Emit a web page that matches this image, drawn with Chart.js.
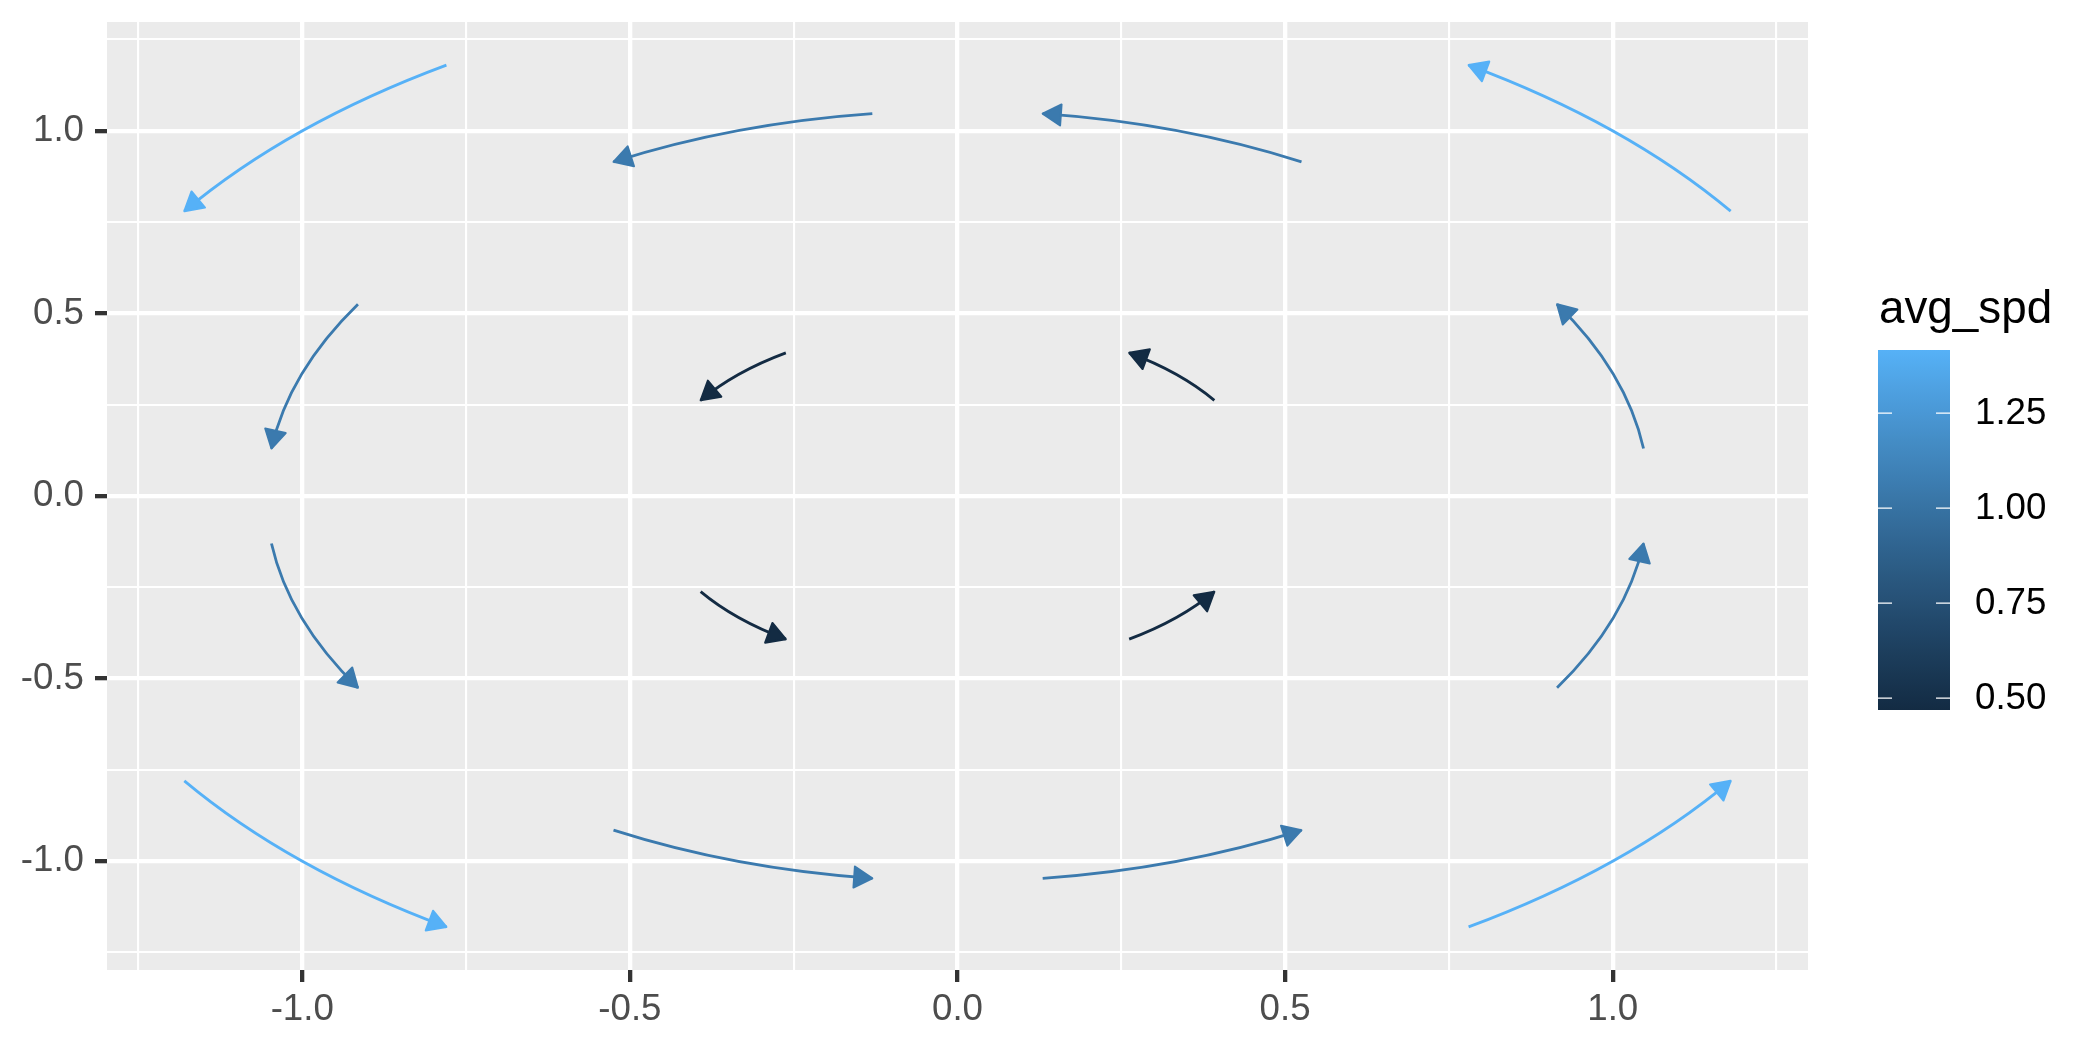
<!DOCTYPE html>
<html>
<head>
<meta charset="utf-8">
<script src="https://cdn.jsdelivr.net/npm/chart.js@4.4.1/dist/chart.umd.min.js"></script>
<style>
  body { margin: 0; background: #fff; }
  canvas { display: block; }
</style>
</head>
<body>
<canvas id="grafico" width="2100" height="1050"></canvas>
<script>
// Arrow data: start / end in data units, colour value avg_spd
const startX = [-0.78, 1.18, -1.18, 0.78, -0.13, 0.525, -0.915, -1.047, -0.525, 0.13, 0.915, 1.047, -0.262, 0.392, -0.392, 0.262];
const startY = [1.18, 0.78, -0.78, -1.18, 1.047, 0.915, 0.525, -0.13, -0.915, -1.047, -0.525, 0.13, 0.392, 0.262, -0.262, -0.392];
const endX = [-1.18, 0.78, -0.78, 1.18, -0.525, 0.13, -1.047, -0.915, -0.13, 0.525, 1.047, 0.915, -0.392, 0.262, -0.262, 0.392];
const endY = [0.78, 1.18, -1.18, -0.78, 0.915, 1.047, 0.13, -0.525, -1.047, -0.915, -0.13, 0.525, 0.262, 0.392, -0.392, -0.262];
const avgSpd = [1.416, 1.416, 1.416, 1.416, 1.055, 1.055, 1.055, 1.055, 1.055, 1.055, 1.055, 1.055, 0.469, 0.469, 0.469, 0.469];

const axisTicks = [-1.25, -1, -0.75, -0.5, -0.25, 0, 0.25, 0.5, 0.75, 1, 1.25];
const legendTicks = [0.5, 0.75, 1.0, 1.25];
const legendLabels = ['0.50', '0.75', '1.00', '1.25'];

const LOW = '#132B43';
const HIGH = '#56B1F7';
const FONT = "'Liberation Sans', Arial, sans-serif";

// --- cores: interpolação em Lab como no ggplot ---
function hexToRgb(h) {
  return [1, 3, 5].map(i => parseInt(h.substr(i, 2), 16) / 255);
}
function toLab(hex) {
  const lin = hexToRgb(hex).map(c => c <= 0.04045 ? c / 12.92 : Math.pow((c + 0.055) / 1.055, 2.4));
  const X = (0.4124564 * lin[0] + 0.3575761 * lin[1] + 0.1804375 * lin[2]) / 0.95047;
  const Y = 0.2126729 * lin[0] + 0.7151522 * lin[1] + 0.0721750 * lin[2];
  const Z = (0.0193339 * lin[0] + 0.1191920 * lin[1] + 0.9503041 * lin[2]) / 1.08883;
  const f = t => t > 0.008856 ? Math.cbrt(t) : 7.787 * t + 16 / 116;
  const fx = f(X), fy = f(Y), fz = f(Z);
  return [116 * fy - 16, 500 * (fx - fy), 200 * (fy - fz)];
}
function labToRgbStr(lab) {
  const fy = (lab[0] + 16) / 116, fx = fy + lab[1] / 500, fz = fy - lab[2] / 200;
  const inv = t => t > 0.206893 ? t * t * t : (t - 16 / 116) / 7.787;
  const X = inv(fx) * 0.95047, Y = inv(fy), Z = inv(fz) * 1.08883;
  let r = 3.2404542 * X - 1.5371385 * Y - 0.4985314 * Z;
  let g = -0.9692660 * X + 1.8760108 * Y + 0.0415560 * Z;
  let b = 0.0556434 * X - 0.2040259 * Y + 1.0572252 * Z;
  const gam = c => {
    c = c <= 0.0031308 ? 12.92 * c : 1.055 * Math.pow(c, 1 / 2.4) - 0.055;
    return Math.round(Math.max(0, Math.min(1, c)) * 255);
  };
  return 'rgb(' + gam(r) + ',' + gam(g) + ',' + gam(b) + ')';
}
const labLow = toLab(LOW), labHigh = toLab(HIGH);
const spdMin = Math.min(...avgSpd), spdMax = Math.max(...avgSpd);
function colourFor(v) {
  const t = (v - spdMin) / (spdMax - spdMin);
  return labToRgbStr(labLow.map((c, i) => c + (labHigh[i] - c) * t));
}

// limites com expansão de 5% (como ggplot)
function expandRange(vals) {
  const lo = Math.min(...vals), hi = Math.max(...vals);
  const pad = (hi - lo) * 0.05;
  return [lo - pad, hi + pad];
}
const xLim = expandRange(startX.concat(endX));
const yLim = expandRange(startY.concat(endY));

const isMajor = v => Math.abs(v * 2 - Math.round(v * 2)) < 1e-9;

// Fundo do painel
const painelFundo = {
  id: 'painelFundo',
  beforeDraw(chart) {
    const { ctx, chartArea: a } = chart;
    ctx.save();
    ctx.fillStyle = '#EBEBEB';
    ctx.fillRect(a.left, a.top, a.right - a.left, a.bottom - a.top);
    ctx.restore();
  }
};

// Setas curvas (geom_curve)
const BEND = 0.1;
const setas = {
  id: 'setas',
  afterDatasetsDraw(chart) {
    const { ctx, chartArea: a } = chart;
    const xs = chart.scales.x, ys = chart.scales.y;
    ctx.save();
    ctx.beginPath();
    ctx.rect(a.left, a.top, a.right - a.left, a.bottom - a.top);
    ctx.clip();
    chart.data.datasets.forEach((ds, i) => {
      const meta = chart.getDatasetMeta(i);
      const p0 = meta.data[0], p1 = meta.data[1];
      const dx = endX[i] - startX[i], dy = endY[i] - startY[i];
      const cx = xs.getPixelForValue((startX[i] + endX[i]) / 2 + BEND * dy);
      const cy = ys.getPixelForValue((startY[i] + endY[i]) / 2 - BEND * dx);
      const col = colourFor(avgSpd[i]);
      ctx.strokeStyle = col;
      ctx.fillStyle = col;
      ctx.lineWidth = 2.8;
      ctx.lineCap = 'butt';
      ctx.beginPath();
      ctx.moveTo(p0.x, p0.y);
      ctx.quadraticCurveTo(cx, cy, p1.x, p1.y);
      ctx.stroke();
      // cabeça da seta
      const ang = Math.atan2(p1.y - cy, p1.x - cx);
      const L = 21, half = Math.PI / 6;
      ctx.beginPath();
      ctx.moveTo(p1.x, p1.y);
      ctx.lineTo(p1.x - L * Math.cos(ang - half), p1.y - L * Math.sin(ang - half));
      ctx.lineTo(p1.x - L * Math.cos(ang + half), p1.y - L * Math.sin(ang + half));
      ctx.closePath();
      ctx.lineJoin = 'round';
      ctx.lineWidth = 2;
      ctx.fill();
      ctx.stroke();
    });
    ctx.restore();
  }
};

// Legenda contínua (colorbar)
const legenda = {
  id: 'legenda',
  afterDraw(chart) {
    const ctx = chart.ctx;
    const bx = 1878, bw = 72, top = 350, bottom = 710;
    const yFor = v => bottom - (v - spdMin) / (spdMax - spdMin) * (bottom - top);
    ctx.save();
    ctx.fillStyle = '#000';
    ctx.font = '45.8px ' + FONT;
    ctx.textAlign = 'left';
    ctx.textBaseline = 'alphabetic';
    ctx.fillText('avg_spd', 1879, 323);

    const grad = ctx.createLinearGradient(0, bottom, 0, top);
    for (let s = 0; s <= 20; s++) {
      grad.addColorStop(s / 20, colourFor(spdMin + (spdMax - spdMin) * s / 20));
    }
    ctx.fillStyle = grad;
    ctx.fillRect(bx, top, bw, bottom - top);

    ctx.strokeStyle = '#fff';
    ctx.lineWidth = 1.2;
    ctx.font = '36.7px ' + FONT;
    ctx.textBaseline = 'middle';
    legendTicks.forEach((v, i) => {
      const y = yFor(v);
      ctx.beginPath();
      ctx.moveTo(bx, y); ctx.lineTo(bx + 14, y);
      ctx.moveTo(bx + bw - 14, y); ctx.lineTo(bx + bw, y);
      ctx.stroke();
      ctx.fillStyle = '#000';
      ctx.fillText(legendLabels[i], 1975, y + 1);
    });
    ctx.restore();
  }
};

function eixo(lim, fitFn) {
  return {
    type: 'linear',
    min: lim[0],
    max: lim[1],
    afterBuildTicks(scale) {
      scale.ticks = axisTicks.map(v => ({ value: v }));
    },
    afterFit(scale) {
      fitFn(scale);
      scale.paddingTop = 0;
      scale.paddingBottom = 0;
      scale.paddingLeft = 0;
      scale.paddingRight = 0;
    },
    border: { display: false },
    grid: {
      color: '#FFFFFF',
      lineWidth: c => isMajor(c.tick.value) ? 4.3 : 2.1,
      tickColor: c => isMajor(c.tick.value) ? '#333333' : 'rgba(0,0,0,0)',
      tickWidth: 4.3,
      tickLength: 12,
      drawTicks: true
    },
    ticks: {
      autoSkip: false,
      maxRotation: 0,
      color: '#4D4D4D',
      font: { size: 36.7, family: FONT },
      callback: v => isMajor(v) ? v.toFixed(1) : ''
    }
  };
}

const scaleX = eixo(xLim, s => { s.height = 80; });
scaleX.ticks.padding = 6;
const scaleY = eixo(yLim, s => { s.width = 107; });
scaleY.ticks.padding = 11;

const ctxSetas = document.getElementById('grafico').getContext('2d');
const grafico = new Chart(ctxSetas, {
  type: 'scatter',
  data: {
    datasets: startX.map((x0, i) => ({
      data: [{ x: x0, y: startY[i] }, { x: endX[i], y: endY[i] }],
      pointRadius: 0,
      showLine: false
    }))
  },
  options: {
    responsive: false,
    animation: false,
    devicePixelRatio: 1,
    layout: { padding: { top: 22, right: 292, left: 0, bottom: 0 } },
    plugins: { legend: { display: false }, tooltip: { enabled: false } },
    scales: { x: scaleX, y: scaleY }
  },
  plugins: [painelFundo, setas, legenda]
});
</script>
</body>
</html>
